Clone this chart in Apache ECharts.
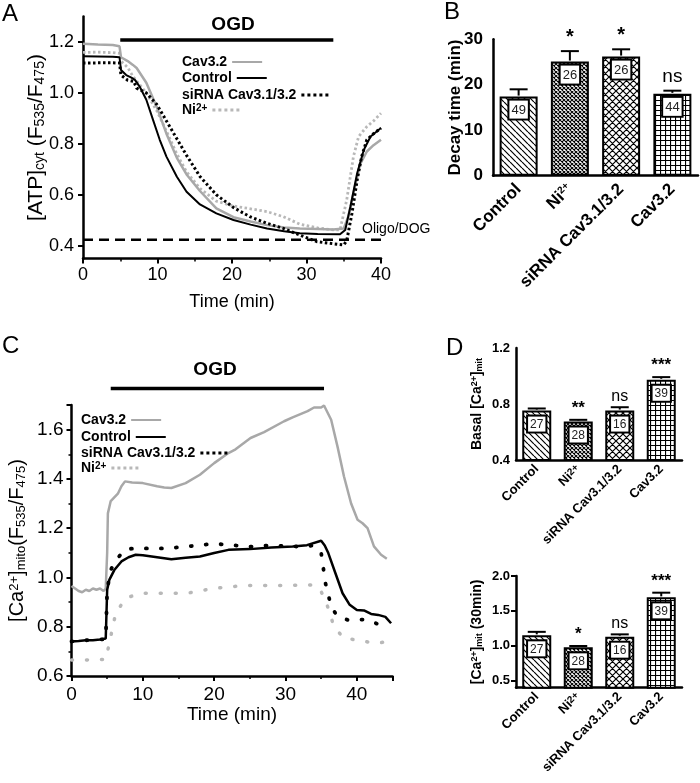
<!DOCTYPE html>
<html><head><meta charset="utf-8">
<script src="https://cdn.jsdelivr.net/npm/echarts@6/dist/echarts.min.js"></script>
<style>html,body{margin:0;padding:0;background:#fff}#c{width:700px;height:783px}</style>
</head><body><div id="c"></div>
<script>
const FONT = "'Liberation Sans', Arial, Helvetica, sans-serif";

// ---------- shared ----------
const categories = ['Control', 'Ni2+', 'siRNA Cav3.1/3.2', 'Cav3.2'];
const legendNames = ['Cav3.2', 'Control', 'siRNA Cav3.1/3.2', 'Ni2+'];

// ---------- panel A : cytosolic ATP traces [time(min), ratio] ----------
const aValueTicks = [0.4, 0.6, 0.8, 1.0, 1.2];
const aCav32 = [[0,1.193],[2,1.19],[4,1.188],[4.9,1.183],[5.1,1.14],[6,1.125],[6.7,1.11],[7.2,1.098],[8.5,1.04],[9.9,0.945],[11.2,0.84],[12.6,0.745],[13.9,0.68],[15.7,0.615],[17.9,0.547],[20.2,0.512],[22.5,0.495],[24.7,0.481],[27,0.472],[29.1,0.468],[31.5,0.466],[33.6,0.464],[35,0.468],[35.6,0.514],[36.3,0.606],[37.2,0.72],[38.1,0.77],[39,0.795],[40,0.816]];
const aControl = [[0,1.144],[2,1.143],[4,1.142],[4.9,1.14],[5.1,1.09],[5.8,1.07],[6.5,1.06],[7,1.05],[7.6,1.025],[8.5,0.973],[9.4,0.894],[10.3,0.816],[11.2,0.75],[12.6,0.671],[13.9,0.612],[15.7,0.562],[17.9,0.527],[20.2,0.501],[22.5,0.483],[24.7,0.468],[27,0.457],[29.1,0.449],[31.5,0.446],[34.5,0.445],[35.2,0.462],[35.9,0.554],[36.8,0.685],[37.7,0.777],[38.6,0.829],[40,0.862]];
const aSiRNA = [[0,1.117],[2,1.118],[4,1.118],[4.9,1.117],[5.1,1.07],[6,1.05],[6.8,1.045],[7.2,1.019],[8.5,1.0],[9.9,0.955],[11.2,0.89],[12.6,0.82],[13.9,0.755],[15.7,0.672],[17.9,0.60],[20.2,0.55],[22.4,0.514],[24.7,0.488],[26.9,0.468],[29.1,0.442],[31.4,0.416],[33,0.41],[35,0.403],[35.4,0.42],[36.1,0.527],[36.8,0.658],[37.4,0.75],[38.1,0.816],[39,0.84],[40,0.862]];
const aNi = [[0,1.159],[2,1.16],[4,1.158],[4.9,1.155],[5.1,1.125],[6,1.1],[6.7,1.065],[8.5,1.0],[9.9,0.93],[11.2,0.85],[12.6,0.76],[13.9,0.69],[15.7,0.625],[17.9,0.575],[20.2,0.556],[22.5,0.545],[24.7,0.534],[26.9,0.514],[29.1,0.485],[31.5,0.47],[33.6,0.462],[34.5,0.462],[35.4,0.58],[36.3,0.75],[37,0.829],[38.1,0.868],[39,0.89],[40,0.92]];
const aOligoLevel = 0.424;
const aOGDStart = 5, aOGDEnd = 33.6, aOGDLevel = 1.208;

// ---------- panel B : decay time ----------
const bDecay = [17.4, 25.1, 26.2, 18.0];
const bDecayErr = [19.0, 27.4, 27.8, 18.7];
const bN = [49, 26, 26, 44];
const bSig = ['', '*', '*', 'ns'];

// ---------- panel C : mitochondrial Ca2+ traces ----------
const cCav32 = [[0,0.965],[0.5,0.955],[1,0.945],[1.5,0.94],[2,0.95],[2.5,0.945],[3,0.955],[3.5,0.95],[4,0.955],[4.5,0.945],[4.8,0.955],[5,1.1],[5.1,1.26],[5.5,1.31],[6.5,1.34],[7,1.37],[7.5,1.39],[8.5,1.385],[10,1.383],[12,1.37],[13,1.365],[14,1.363],[16,1.383],[18,1.417],[20,1.464],[22,1.505],[23,1.52],[25.1,1.566],[27,1.59],[29.8,1.634],[31,1.65],[33.1,1.675],[34,1.69],[35,1.69],[35.4,1.698],[36.4,1.64],[37.3,1.53],[38.2,1.41],[39.2,1.30],[40.1,1.234],[40.8,1.22],[41.5,1.2],[42.4,1.126],[43.4,1.092],[44.2,1.076]];
const cControl = [[0,0.74],[1,0.742],[2,0.745],[3,0.745],[4,0.748],[4.8,0.752],[5,0.95],[5.3,0.99],[6,1.03],[7,1.065],[8,1.082],[9,1.092],[10,1.09],[12,1.082],[14,1.074],[16,1.08],[18,1.085],[20,1.099],[22,1.112],[25,1.115],[28,1.122],[31,1.126],[33,1.131],[35,1.149],[35.5,1.13],[36,1.099],[37,1.017],[38,0.936],[39,0.889],[40,0.868],[41,0.866],[42,0.852],[43,0.848],[44,0.84],[44.8,0.814]];
const cSiRNA = [[0,0.74],[2,0.745],[4,0.748],[4.8,0.75],[5,0.95],[5.5,1.03],[6.2,1.07],[7.6,1.116],[10,1.118],[13.4,1.118],[16,1.125],[20,1.137],[25,1.125],[28,1.13],[32.1,1.125],[34,1.13],[35,1.10],[35.6,0.977],[36.4,0.882],[37.3,0.841],[38.7,0.828],[40,0.83],[41.5,0.828],[43,0.81],[44.3,0.78]];
const cNi = [[0,0.665],[2,0.665],[4,0.667],[4.8,0.667],[5.3,0.733],[6.2,0.855],[7.6,0.916],[9.7,0.936],[13.4,0.936],[16.2,0.936],[20,0.956],[24.2,0.967],[29.8,0.967],[34,0.97],[35,0.943],[35.9,0.882],[36.8,0.80],[38.2,0.753],[40.1,0.746],[42.4,0.733],[44.8,0.74]];
const cOGDStart = 5.5, cOGDEnd = 35.4, cOGDLevel = 1.767;

// ---------- panel D : basal and 30-min mitochondrial Ca2+ ----------
const dBasal = [0.753, 0.675, 0.753, 0.973];
const dBasalErr = [0.768, 0.687, 0.777, 0.992];
const d30 = [1.15, 0.978, 1.131, 1.694];
const d30Err = [1.20, 0.997, 1.164, 1.761];
const dN = [27, 28, 16, 39];
const dBasalSig = ['', '**', 'ns', '***'];
const d30Sig = ['', '*', 'ns', '***'];
const d30Ticks = [0.5, 1.0, 1.5, 2.0];

// ---------- helpers ----------
function pattern(kind) {
  const s = {diag: 6, fine: 4, cross: 7, grid: 5}[kind];
  const c = document.createElement('canvas');
  c.width = c.height = s;
  const g = c.getContext('2d');
  g.fillStyle = '#fff'; g.fillRect(0, 0, s, s);
  g.strokeStyle = '#000'; g.lineWidth = kind === 'fine' ? 1.1 : 1.2;
  g.beginPath();
  if (kind !== 'grid') { for (let k = -s; k <= s; k += s) { g.moveTo(k, 0); g.lineTo(k + s, s); } }
  if (kind === 'cross' || kind === 'fine') { for (let k = -s; k <= s; k += s) { g.moveTo(k + s, 0); g.lineTo(k, s); } }
  if (kind === 'grid') { g.moveTo(0, 0.5); g.lineTo(s, 0.5); g.moveTo(0.5, 0); g.lineTo(0.5, s); }
  g.stroke();
  return {image: c, repeat: 'repeat'};
}
const fills = [pattern('diag'), pattern('fine'), pattern('cross'), pattern('grid')];

const axisLine = {lineStyle: {color: '#000', width: 2.5}};
const axisTick = {length: 5, lineStyle: {color: '#000', width: 2}};
const supRich = {p: {fontSize: 10, fontWeight: 'bold', fontFamily: FONT, verticalAlign: 'top', color: '#000'}};

function lineS(name, idx, data, color, width, dash, cap, extra) {
  return Object.assign({
    type: 'line', name: name, xAxisIndex: idx, yAxisIndex: idx, data: data,
    showSymbol: false, symbol: 'none', animation: false,
    lineStyle: {color: color, width: width, type: dash || 'solid', cap: cap || 'butt'},
    itemStyle: {color: color}
  }, extra || {});
}

function barPanel(idx, vals, errs, ns, sig, o) {
  return [{
    type: 'bar', xAxisIndex: idx, yAxisIndex: idx, barWidth: o.bw, animation: false,
    data: vals.map((v, i) => ({value: v, itemStyle: {color: fills[i]}})),
    itemStyle: {borderColor: '#000', borderWidth: 2},
    label: {show: true, position: 'insideTop', distance: o.ld,
      formatter: p => String(ns[p.dataIndex]),
      backgroundColor: '#fff', borderColor: '#000', borderWidth: 2, padding: o.pad,
      fontFamily: FONT, fontSize: o.lf, color: '#222'},
    z: 2
  }, {
    type: 'custom', xAxisIndex: idx, yAxisIndex: idx, z: 3, animation: false,
    data: vals.map((v, i) => [i, v, errs[i]]),
    renderItem: (params, api) => {
      const i = api.value(0);
      const p0 = api.coord([i, api.value(1)]);
      const p1 = api.coord([i, api.value(2)]);
      const hw = o.cap / 2;
      const s = sig[params.dataIndex];
      return {type: 'group', children: [
        {type: 'line', shape: {x1: p0[0], y1: p0[1] - 1, x2: p1[0], y2: p1[1]}, style: {stroke: '#000', lineWidth: 2}},
        {type: 'line', shape: {x1: p1[0] - hw, y1: p1[1], x2: p1[0] + hw, y2: p1[1]}, style: {stroke: '#000', lineWidth: 2}},
        {type: 'text', x: p1[0], y: p1[1] - o.sg, style: {text: s, align: 'center', verticalAlign: 'bottom',
          fontFamily: FONT, fontSize: s === 'ns' ? o.nsSize : o.starSize, fontWeight: s === 'ns' ? 'normal' : 'bold', fill: '#000'}}
      ]};
    }
  }];
}

function catAxis(idx, size, margin) {
  return {type: 'category', gridIndex: idx, data: categories, axisLine: axisLine,
    axisTick: {alignWithLabel: true, length: 5, lineStyle: {color: '#000', width: 2}},
    axisLabel: {interval: 0, rotate: 45, margin: margin, hideOverlap: false, alignMinLabel: 'right', alignMaxLabel: 'right',
      fontFamily: FONT, fontWeight: 'bold', fontSize: size, color: '#000',
      formatter: v => v === 'Ni2+' ? 'Ni{p|2+}' : v, rich: supRich},
    splitLine: {show: false}};
}

const legendFmt = n => {
  const t = n.slice(2);
  return t === 'Ni2+' ? 'Ni{p|2+}' : t;
};
// one legend component per entry so each sample follows its own text
function legendItem(prefix, name, left, centerY) {
  const dotted = name === 'Ni2+' || name.indexOf('siRNA') === 0;
  const l = {left: left, top: centerY - 7, orient: 'horizontal', align: 'right', itemWidth: 30, itemHeight: 14,
    selectedMode: false, data: [prefix + name], formatter: legendFmt,
    itemStyle: {opacity: 0},
    textStyle: {fontFamily: FONT, fontWeight: 'bold', fontSize: 14, color: '#000', rich: supRich}};
  if (dotted) l.lineStyle = {type: [3, 3], width: 3, cap: 'butt'};
  return l;
}
const legendA_Y = [57, 73, 90, 105];
const legendC_Y = [415, 432, 448, 463];

const fmt1 = v => v.toFixed(1);

const option = {
  animation: false,
  backgroundColor: '#fff',
  grid: [
    {left: 83, top: 16.5, width: 298, height: 242},
    {left: 493, top: 39.3, width: 205, height: 136.4},
    {left: 71.5, top: 405, width: 321, height: 271},
    {left: 516, top: 348, width: 166, height: 112},
    {left: 516, top: 576, width: 166, height: 111.7}
  ],
  xAxis: [
    {type: 'value', gridIndex: 0, min: 0, max: 40, interval: 10, axisLine: axisLine, axisTick: axisTick,
      minorTick: {show: true, splitNumber: 2, length: 3, lineStyle: {color: '#000', width: 1.5}},
      axisLabel: {margin: 8, fontFamily: FONT, fontSize: 18, color: '#000'}, splitLine: {show: false},
      name: 'Time (min)', nameLocation: 'middle', nameGap: 35, nameMoveOverlap: false, nameTextStyle: {fontFamily: FONT, fontSize: 18, color: '#000'}},
    catAxis(1, 17, 11),
    {type: 'value', gridIndex: 2, min: 0, max: 45, interval: 10, axisLine: axisLine, axisTick: axisTick,
      minorTick: {show: true, splitNumber: 2, length: 3, lineStyle: {color: '#000', width: 1.5}},
      axisLabel: {margin: 9, fontFamily: FONT, fontSize: 19, color: '#000', showMaxLabel: false}, splitLine: {show: false},
      name: 'Time (min)', nameLocation: 'middle', nameGap: 29, nameMoveOverlap: false, nameTextStyle: {fontFamily: FONT, fontSize: 19, color: '#000'}},
    catAxis(3, 13, 7),
    catAxis(4, 13, 7)
  ],
  yAxis: [
    {type: 'value', gridIndex: 0, min: 0.35, max: 1.3, axisLine: {show: true, lineStyle: {color: '#000', width: 2.5}},
      axisTick: Object.assign({show: true, customValues: aValueTicks}, axisTick),
      axisLabel: {customValues: aValueTicks, formatter: fmt1, margin: 9, fontFamily: FONT, fontSize: 18, color: '#000'},
      splitLine: {show: false},
      name: '[ATP]{s|cyt} (F{s|535}/F{s|475})', nameLocation: 'middle', nameGap: 36, nameMoveOverlap: false,
      nameTextStyle: {fontFamily: FONT, fontSize: 21, color: '#000', rich: {s: {fontFamily: FONT, fontSize: 14, verticalAlign: 'bottom', color: '#000'}}}},
    {type: 'value', gridIndex: 1, min: 0, max: 30, interval: 10, axisLine: {show: true, lineStyle: {color: '#000', width: 2.5}}, axisTick: axisTick,
      axisLabel: {margin: 10, lineHeight: 13, fontFamily: FONT, fontWeight: 'bold', fontSize: 17, color: '#000'}, splitLine: {show: false},
      name: 'Decay time (min)', nameLocation: 'middle', nameGap: 29, nameMoveOverlap: false,
      nameTextStyle: {fontFamily: FONT, fontWeight: 'bold', fontSize: 17, color: '#000'}},
    {type: 'value', gridIndex: 2, min: 0.6, max: 1.7, interval: 0.2, axisLine: {show: true, lineStyle: {color: '#000', width: 2.5}}, axisTick: axisTick,
      minorTick: {show: true, splitNumber: 2, length: 3, lineStyle: {color: '#000', width: 1.5}},
      axisLabel: {formatter: fmt1, margin: 8, fontFamily: FONT, fontSize: 19, color: '#000', showMaxLabel: false}, splitLine: {show: false},
      name: '[Ca{p|2+}]{s|mito}(F{s|535}/F{s|475})', nameLocation: 'middle', nameGap: 44, nameMoveOverlap: false,
      nameTextStyle: {fontFamily: FONT, fontSize: 20, color: '#000', rich: {
        s: {fontFamily: FONT, fontSize: 13, verticalAlign: 'bottom', color: '#000'},
        p: {fontFamily: FONT, fontSize: 13, verticalAlign: 'top', color: '#000'}}}},
    {type: 'value', gridIndex: 3, min: 0.4, max: 1.2, interval: 0.4, axisLine: {show: true, lineStyle: {color: '#000', width: 2.5}}, axisTick: axisTick,
      axisLabel: {formatter: fmt1, margin: 6, lineHeight: 11, fontFamily: FONT, fontWeight: 'bold', fontSize: 13, color: '#000'}, splitLine: {show: false},
      name: 'Basal [Ca{p|2+}]{s|mit}', nameLocation: 'middle', nameGap: 32, nameMoveOverlap: false,
      nameTextStyle: {fontFamily: FONT, fontWeight: 'bold', fontSize: 14, color: '#000', rich: {
        s: {fontFamily: FONT, fontWeight: 'bold', fontSize: 9, verticalAlign: 'bottom', color: '#000'},
        p: {fontFamily: FONT, fontWeight: 'bold', fontSize: 9, verticalAlign: 'top', color: '#000'}}}},
    {type: 'value', gridIndex: 4, min: 0.4, max: 2.0, axisLine: {show: true, lineStyle: {color: '#000', width: 2.5}},
      axisTick: Object.assign({show: true, customValues: d30Ticks}, axisTick),
      axisLabel: {customValues: d30Ticks, formatter: fmt1, margin: 6, lineHeight: 11, fontFamily: FONT, fontWeight: 'bold', fontSize: 13, color: '#000'}, splitLine: {show: false},
      name: '[Ca{p|2+}]{s|mit} (30min)', nameLocation: 'middle', nameGap: 32, nameMoveOverlap: false,
      nameTextStyle: {fontFamily: FONT, fontWeight: 'bold', fontSize: 14, color: '#000', rich: {
        s: {fontFamily: FONT, fontWeight: 'bold', fontSize: 9, verticalAlign: 'bottom', color: '#000'},
        p: {fontFamily: FONT, fontWeight: 'bold', fontSize: 9, verticalAlign: 'top', color: '#000'}}}}
  ],
  legend: [
    ...legendNames.map((n, i) => legendItem('A:', n, 177, legendA_Y[i])),
    ...legendNames.map((n, i) => legendItem('C:', n, 76, legendC_Y[i]))
  ],
  graphic: [
    {type: 'text', x: 2, y: 14, style: {text: 'A', fontFamily: FONT, fontSize: 24, verticalAlign: 'middle', fill: '#000'}},
    {type: 'text', x: 444, y: 12, style: {text: 'B', fontFamily: FONT, fontSize: 24, verticalAlign: 'middle', fill: '#000'}},
    {type: 'text', x: 2, y: 346, style: {text: 'C', fontFamily: FONT, fontSize: 24, verticalAlign: 'middle', fill: '#000'}},
    {type: 'text', x: 446, y: 348, style: {text: 'D', fontFamily: FONT, fontSize: 24, verticalAlign: 'middle', fill: '#000'}},
    {type: 'text', x: 233, y: 25, style: {text: 'OGD', fontFamily: FONT, fontWeight: 'bold', fontSize: 19, align: 'center', verticalAlign: 'middle', fill: '#000'}},
    {type: 'text', x: 215, y: 370, style: {text: 'OGD', fontFamily: FONT, fontWeight: 'bold', fontSize: 19, align: 'center', verticalAlign: 'middle', fill: '#000'}},
    {type: 'text', x: 362, y: 229, style: {text: 'Oligo/DOG', fontFamily: FONT, fontSize: 14, verticalAlign: 'middle', fill: '#000'}}
  ],
  series: [
    lineS('A_oligo', 0, [[0, aOligoLevel], [40, aOligoLevel]], '#000', 2.5, [10, 6]),
    lineS('A_ogd', 0, [[aOGDStart, aOGDLevel], [aOGDEnd, aOGDLevel]], '#000', 3.5),
    lineS('A:Ni2+', 0, aNi, '#b8b8b8', 2.8, [2.5, 2.5]),
    lineS('A:Cav3.2', 0, aCav32, '#a8a8a8', 2.5),
    lineS('A:Control', 0, aControl, '#000', 2),
    lineS('A:siRNA Cav3.1/3.2', 0, aSiRNA, '#000', 3, [2.5, 2.5]),
    ...barPanel(1, bDecay, bDecayErr, bN, bSig, {bw: 38, ld: 4, lf: 13, pad: [3, 2, 2, 2], cap: 18, sg: 4, starSize: 20, nsSize: 19}),
    lineS('C_ogd', 2, [[cOGDStart, cOGDLevel], [cOGDEnd, cOGDLevel]], '#000', 3.5, null, null, {clip: false}),
    lineS('C:Ni2+', 2, cNi, '#b8b8b8', 3.5, [1, 14], 'round'),
    lineS('C:Cav3.2', 2, cCav32, '#a8a8a8', 2.5),
    lineS('C:Control', 2, cControl, '#000', 2.5),
    lineS('C:siRNA Cav3.1/3.2', 2, cSiRNA, '#000', 3.8, [1, 14], 'round'),
    ...barPanel(3, dBasal, dBasalErr, dN, dBasalSig, {bw: 29, ld: 6, lf: 12, pad: [2, 2, 1, 2], cap: 18, sg: 3, starSize: 17, nsSize: 16}),
    ...barPanel(4, d30, d30Err, dN, d30Sig, {bw: 29, ld: 6, lf: 12, pad: [2, 2, 1, 2], cap: 18, sg: 3, starSize: 17, nsSize: 16})
  ]
};

const chart = echarts.init(document.getElementById('c'), null, {renderer: 'canvas'});
chart.setOption(option);
</script></body></html>
